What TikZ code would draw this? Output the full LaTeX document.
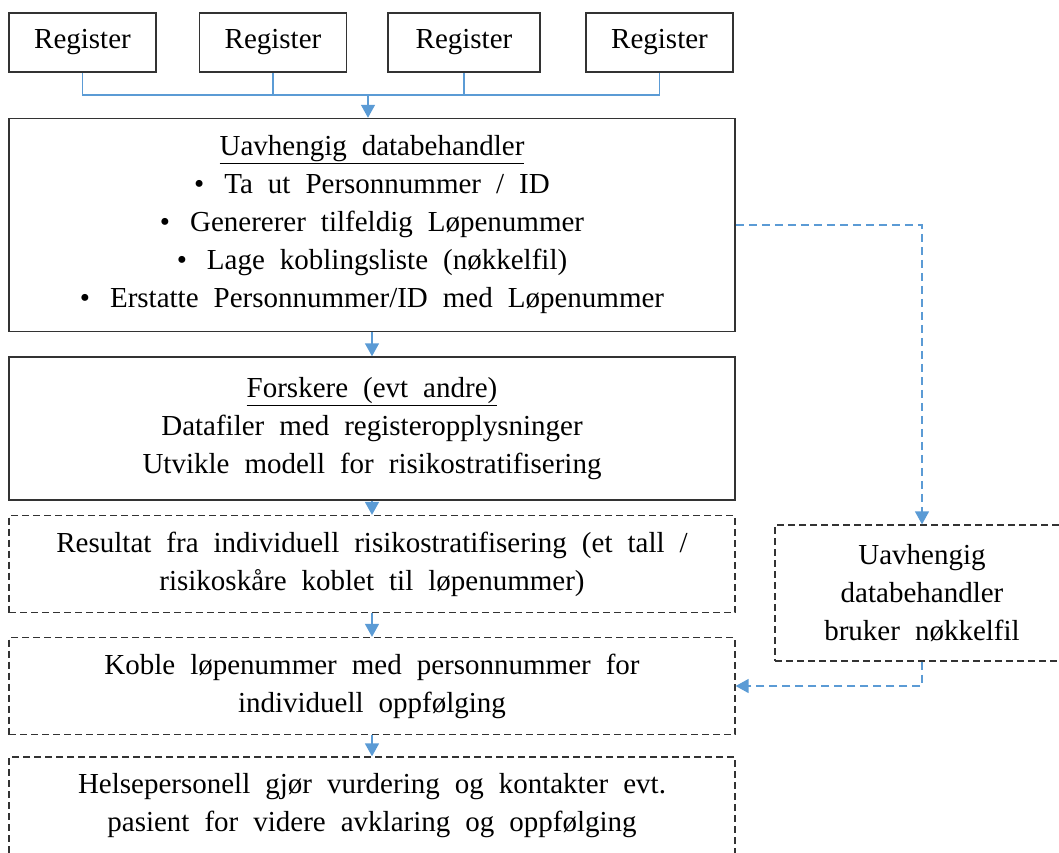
\documentclass[tikz,border=0pt]{standalone}
\usepackage{fontspec}
\setmainfont{Liberation Serif}
\usetikzlibrary{arrows.meta}
\definecolor{linkblue}{RGB}{91,155,213}
\newcommand\diagfont{\fontsize{29}{38}\selectfont\spaceskip 15pt plus 3pt\relax}

\begin{document}
\begin{tikzpicture}[x=1pt, y=-1pt,
  every node/.style={font=\diagfont, align=center, inner sep=0pt},
  box/.style={draw=black!80, line width=1.5pt},
  dbox/.style={draw=black!80, line width=1.3pt, dash pattern=on 7pt off 4pt},
  link/.style={draw=linkblue, line width=1.5pt},
  dlink/.style={link, dash pattern=on 8pt off 5pt},
  tip/.style={-{Triangle[width=14pt,length=13pt]}}]
      \useasboundingbox (0,0) rectangle (1059,852);
      % registers
      \node[box, minimum width=147, minimum height=59] (reg1) at (82.5,42.5) {Register};
      \node[box, minimum width=147, minimum height=59] (reg2) at (273,42.5) {Register};
      \node[box, minimum width=152, minimum height=59] (reg3) at (464,42.5) {Register};
      \node[box, minimum width=147, minimum height=59] (reg4) at (659.5,42.5) {Register};
      % main column
      \node[box, minimum width=726, minimum height=213] (anon) at (372,225)
        {\underline{Uavhengig databehandler}\\
         •\hspace{20pt}Ta ut Personnummer / ID\\
         •\hspace{20pt}Genererer tilfeldig Løpenummer\\
         •\hspace{20pt}Lage koblingsliste (nøkkelfil)\\
         •\hspace{20pt}Erstatte Personnummer/ID med Løpenummer};
      \node[box, minimum width=726, minimum height=143] (forsk) at (372,428.5)
        {\underline{Forskere (evt andre)}\\
         Datafiler med registeropplysninger\\
         Utvikle modell for risikostratifisering};
      \node[dbox, minimum width=726, minimum height=97] (result) at (372,564)
        {Resultat fra individuell risikostratifisering (et tall /\\
         risikoskåre koblet til løpenummer)};
      \node[dbox, minimum width=726, minimum height=97] (koble) at (372,686)
        {Koble løpenummer med personnummer for\\
         individuell oppfølging};
      \node[dbox, minimum width=726, minimum height=98] (helse) at (372,806)
        {Helsepersonell gjør vurdering og kontakter evt.\\
         pasient for videre avklaring og oppfølging};
      % right side
      \node[dbox, minimum width=294, minimum height=136] (brukr) at (922,593)
        {Uavhengig\\ databehandler\\ bruker nøkkelfil};
      % connectors
      \coordinate (bus) at (368,95);
      \draw[link] (reg1.south) |- (bus);
      \draw[link] (reg2.south) |- (bus);
      \draw[link] (reg3.south) |- (bus);
      \draw[link] (reg4.south) |- (bus);
      \draw[link, tip] (bus) -- (bus |- anon.north);
      \draw[link, tip] (anon.south) -- (forsk.north);
      \draw[link, tip] (forsk.south) -- (result.north);
      \draw[link, tip] (result.south) -- (koble.north);
      \draw[link, tip] (koble.south) -- (helse.north);
      \draw[dlink, tip] (anon.east) -| (brukr.north);
      \draw[dlink, tip] (brukr.south) |- (koble.east);
\end{tikzpicture}
\end{document}
